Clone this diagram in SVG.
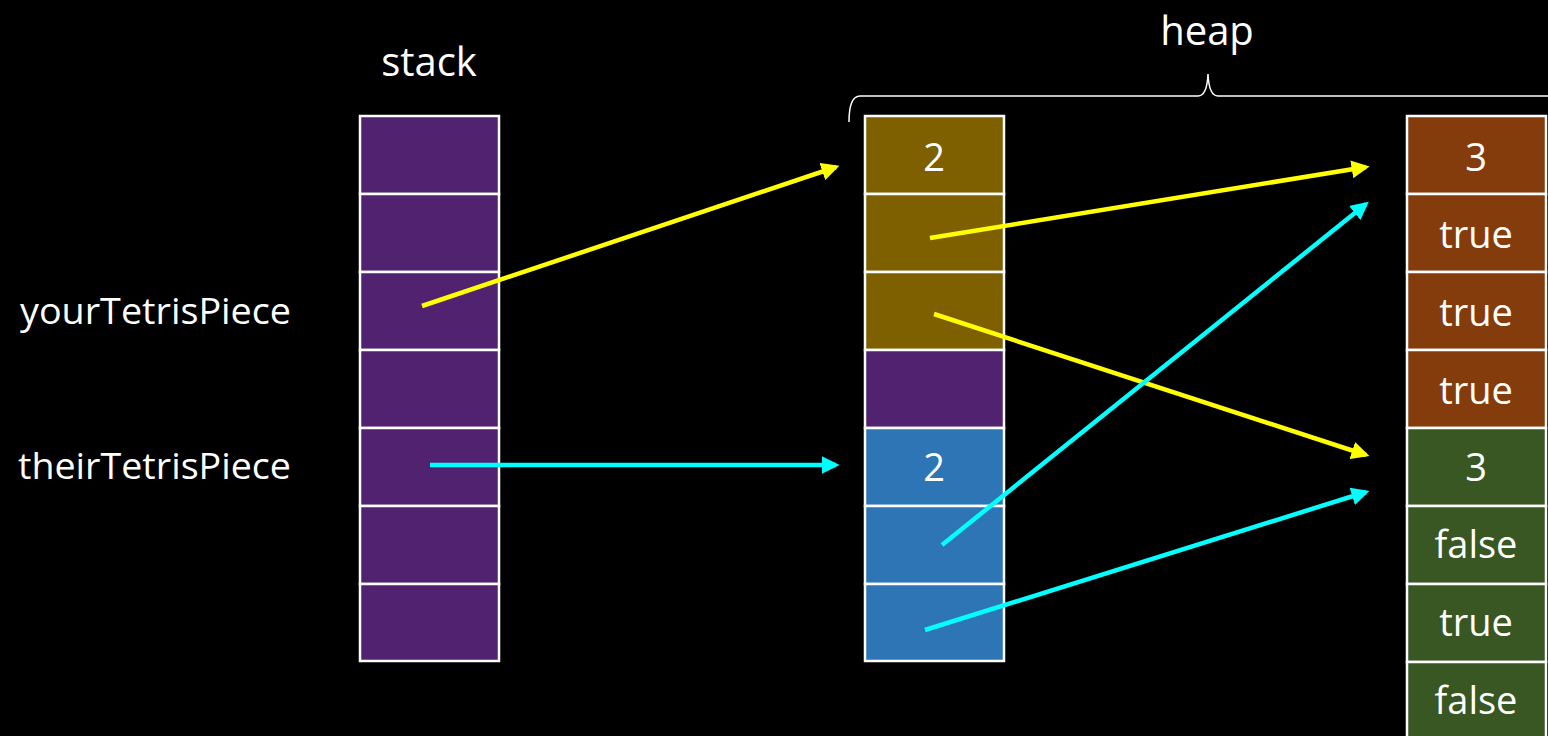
<svg xmlns="http://www.w3.org/2000/svg" width="1548" height="736" viewBox="0 0 1548 736">
<style>
text{font-family:"Open Sans","Liberation Sans",sans-serif;fill:#fff}
.cell{stroke:#fff;stroke-width:2.5}
.p{fill:#512270}.o{fill:#7F6000}.b{fill:#2E75B6}.r{fill:#843C0C}.g{fill:#385723}
.lbl{font-size:36px}
.v{font-size:38px;text-anchor:middle;dominant-baseline:central}
.y{stroke:#FFFF00;stroke-width:4.5;fill:none;marker-end:url(#ay)}
.c{stroke:#00FFFF;stroke-width:4.5;fill:none;marker-end:url(#ac)}
</style>
<defs>
<marker id="ay" viewBox="0 0 10 10" refX="8" refY="5" markerWidth="4" markerHeight="4" orient="auto" markerUnits="strokeWidth"><path d="M0,0L10,5L0,10z" fill="#FFFF00"/></marker>
<marker id="ac" viewBox="0 0 10 10" refX="8" refY="5" markerWidth="4" markerHeight="4" orient="auto" markerUnits="strokeWidth"><path d="M0,0L10,5L0,10z" fill="#00FFFF"/></marker>
</defs>
<rect width="1548" height="736" fill="#000"/>
<g id="stack-title"><text x="429" y="60" style="font-size:40px;text-anchor:middle;dominant-baseline:central">stack</text></g>
<g id="heap-title"><text x="1207" y="29" style="font-size:40px;text-anchor:middle;dominant-baseline:central">heap</text>
<path d="M849,122 Q849,96 860,96 L1198,96 Q1207,96 1208,74 Q1209,96 1218,96 L1548,96" stroke="#fff" stroke-width="1.5" fill="none"/></g>
<g id="labels">
<text class="lbl" x="291" y="310" text-anchor="end" dominant-baseline="central" textLength="271" lengthAdjust="spacingAndGlyphs">yourTetrisPiece</text>
<text class="lbl" x="291" y="465" text-anchor="end" dominant-baseline="central" textLength="273" lengthAdjust="spacingAndGlyphs">theirTetrisPiece</text>
</g>
<g id="stack">
<rect class="cell p" x="360" y="116" width="139" height="78"/>
<rect class="cell p" x="360" y="194" width="139" height="78"/>
<rect class="cell p" x="360" y="272" width="139" height="78"/>
<rect class="cell p" x="360" y="350" width="139" height="78"/>
<rect class="cell p" x="360" y="428" width="139" height="78"/>
<rect class="cell p" x="360" y="506" width="139" height="78"/>
<rect class="cell p" x="360" y="584" width="139" height="77"/>
</g>
<g id="heap-mid">
<rect class="cell o" x="865" y="116" width="139" height="78"/>
<rect class="cell o" x="865" y="194" width="139" height="78"/>
<rect class="cell o" x="865" y="272" width="139" height="78"/>
<rect class="cell p" x="865" y="350" width="139" height="78"/>
<rect class="cell b" x="865" y="428" width="139" height="78"/>
<rect class="cell b" x="865" y="506" width="139" height="78"/>
<rect class="cell b" x="865" y="584" width="139" height="77"/>
<text class="v" x="934" y="156">2</text>
<text class="v" x="934" y="466">2</text>
</g>
<g id="heap-right">
<rect class="cell r" x="1407" y="116" width="139" height="78"/>
<rect class="cell r" x="1407" y="194" width="139" height="78"/>
<rect class="cell r" x="1407" y="272" width="139" height="78"/>
<rect class="cell r" x="1407" y="350" width="139" height="78"/>
<rect class="cell g" x="1407" y="428" width="139" height="78"/>
<rect class="cell g" x="1407" y="506" width="139" height="78"/>
<rect class="cell g" x="1407" y="584" width="139" height="78"/>
<rect class="cell g" x="1407" y="662" width="139" height="80"/>
<text class="v" x="1476" y="156">3</text>
<text class="v" x="1476" y="233">true</text>
<text class="v" x="1476" y="311">true</text>
<text class="v" x="1476" y="389">true</text>
<text class="v" x="1476" y="466">3</text>
<text class="v" x="1476" y="543">false</text>
<text class="v" x="1476" y="621">true</text>
<text class="v" x="1476" y="699">false</text>
</g>
<g id="connectors">
<line class="y" x1="422" y1="306" x2="836" y2="167"/>
<line class="y" x1="930" y1="238" x2="1366" y2="167"/>
<line class="y" x1="934" y1="314" x2="1366" y2="455"/>
<line class="c" x1="430" y1="465" x2="836" y2="465"/>
<line class="c" x1="942" y1="545" x2="1366" y2="204"/>
<line class="c" x1="925" y1="630" x2="1366" y2="492"/>
</g>
</svg>
